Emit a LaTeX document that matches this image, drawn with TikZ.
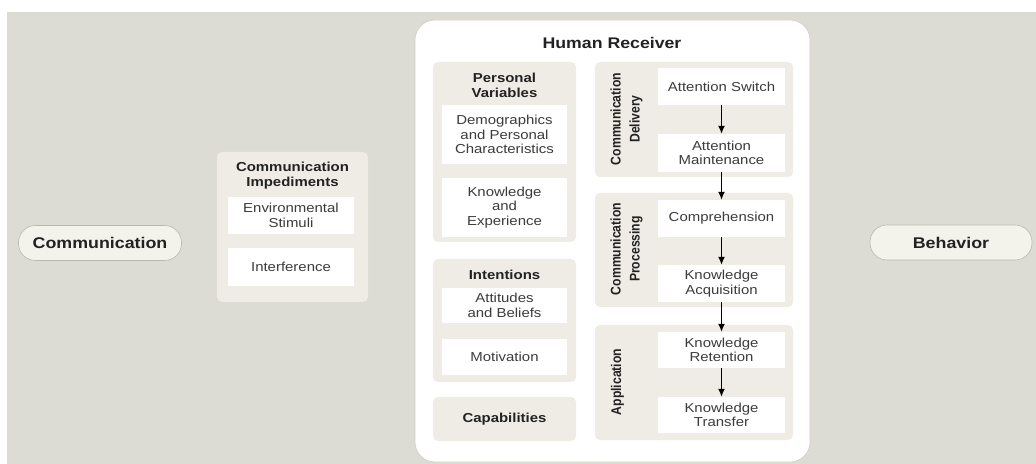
\documentclass[tikz,border=0pt]{standalone}
\usepackage{fontspec}
\setmainfont{Liberation Sans}[FakeStretch=1.15]
\newfontfamily\rotfamily{Liberation Sans}
\usetikzlibrary{arrows.meta}
\definecolor{bggray}{HTML}{DCDBD4}
\definecolor{panelc}{HTML}{EEECE4}
\definecolor{pillc}{HTML}{F3F2EB}
\definecolor{pillline}{HTML}{B9B8B0}
\definecolor{hrline}{HTML}{CFCEC7}
\definecolor{bodytext}{HTML}{3C3C3C}
\definecolor{titletext}{HTML}{222222}
\newcommand\myBody{\fontsize{13bp}{14.5bp}\selectfont}
\newcommand\myTitle{\fontsize{13bp}{14.5bp}\selectfont\bfseries}
\newcommand\myBig{\fontsize{15.5bp}{17bp}\selectfont\bfseries}
\newcommand\myRot{\rotfamily\fontsize{12.2bp}{16.5bp}\selectfont\bfseries}
\tikzset{
  panel/.style={fill=panelc, rounded corners=5bp, inner sep=0pt, draw=none},
  wbox/.style={fill=white, inner sep=0pt, align=center, font=\myBody, text=bodytext},
  ttl/.style={align=center, font=\myTitle, text=titletext, inner sep=0pt},
  rotlabel/.style={xscale=1.15, rotate=90, align=center, font=\myRot, text=titletext, inner sep=0pt},
  pill/.style={fill=pillc, draw=pillline, line width=0.6bp, rounded corners=17bp, inner sep=0pt,
    minimum width=163bp, minimum height=35bp, font=\myBig, text=titletext},
  arr/.style={-{Latex[length=8bp,width=7bp]}, line width=1.3bp, black},
}
\begin{document}
\begin{tikzpicture}[x=1bp,y=-1bp]
\useasboundingbox (0,0) rectangle (1036,464);
\fill[bggray] (7,12) rectangle (1036,464);

% pills
\node[pill] (comm) at (100,243) {Communication};
\node[pill, minimum width=162bp] (behav) at (951,242.5) {Behavior};

% communication impediments
\node[panel, minimum width=151bp, minimum height=150bp] (cipanel) at (292.5,227) {};
\node[ttl] (cititle) at (292.5,175.5) {Communication\\Impediments};
\node[wbox, minimum width=126bp, minimum height=37bp] (env) at (291,215.5) {Environmental\\Stimuli};
\node[wbox, minimum width=126bp, minimum height=38bp] (interf) at (291,267) {Interference};

% human receiver
\node[fill=white, draw=hrline, line width=0.6bp, rounded corners=20bp, inner sep=0pt,
  minimum width=395bp, minimum height=442bp] (hr) at (612.5,241) {};
\node[font=\fontsize{15.4bp}{17bp}\selectfont\bfseries, text=titletext, inner sep=0pt] (hrtitle) at (612,43) {Human Receiver};

% personal variables
\node[panel, minimum width=143bp, minimum height=180bp] (pvpanel) at (504.5,152) {};
\node[ttl] (pvtitle) at (504.5,85.5) {Personal\\Variables};
\node[wbox, minimum width=125bp, minimum height=59bp] (demo) at (504.5,134.5) {Demographics\\and Personal\\Characteristics};
\node[wbox, minimum width=125bp, minimum height=59bp] (ke) at (504.5,207.5) {Knowledge\\and\\Experience};

% intentions
\node[panel, minimum width=143bp, minimum height=123bp] (intpanel) at (504.5,320.5) {};
\node[ttl] (inttitle) at (504.5,275) {Intentions};
\node[wbox, minimum width=125bp, minimum height=35bp] (att) at (504.5,305.5) {Attitudes\\and Beliefs};
\node[wbox, minimum width=125bp, minimum height=36bp] (mot) at (504.5,357) {Motivation};

% capabilities
\node[panel, minimum width=143bp, minimum height=44bp, font=\myTitle, text=titletext] (cap) at (504.5,419) {Capabilities};

% communication delivery
\node[panel, minimum width=198bp, minimum height=115bp] (cdpanel) at (694,119.5) {};
\node[rotlabel] (cdlabel) at (626.5,119) {Communication\\Delivery};
\node[wbox, minimum width=127bp, minimum height=37bp] (as) at (721.5,86.5) {Attention Switch};
\node[wbox, minimum width=127bp, minimum height=38bp] (am) at (721.5,153) {Attention\\Maintenance};

% communication processing
\node[panel, minimum width=198bp, minimum height=114bp] (cppanel) at (694,250) {};
\node[rotlabel] (cplabel) at (626.5,249) {Communication\\Processing};
\node[wbox, minimum width=127bp, minimum height=37bp] (comp) at (721.5,218.5) {Comprehension};
\node[wbox, minimum width=127bp, minimum height=37bp] (ka) at (721.5,283.5) {Knowledge\\Acquisition};

% application
\node[panel, minimum width=198bp, minimum height=115bp] (apppanel) at (694,382.5) {};
\node[rotlabel] (applabel) at (617.5,382) {Application};
\node[wbox, minimum width=127bp, minimum height=36bp] (kr) at (721.5,350) {Knowledge\\Retention};
\node[wbox, minimum width=127bp, minimum height=36bp] (kt) at (721.5,415) {Knowledge\\Transfer};

% arrows
\draw[arr] (as) -- (am);
\draw[arr] (am) -- (comp);
\draw[arr] (comp) -- (ka);
\draw[arr] (ka) -- (kr);
\draw[arr] (kr) -- (kt);
\end{tikzpicture}
\end{document}
